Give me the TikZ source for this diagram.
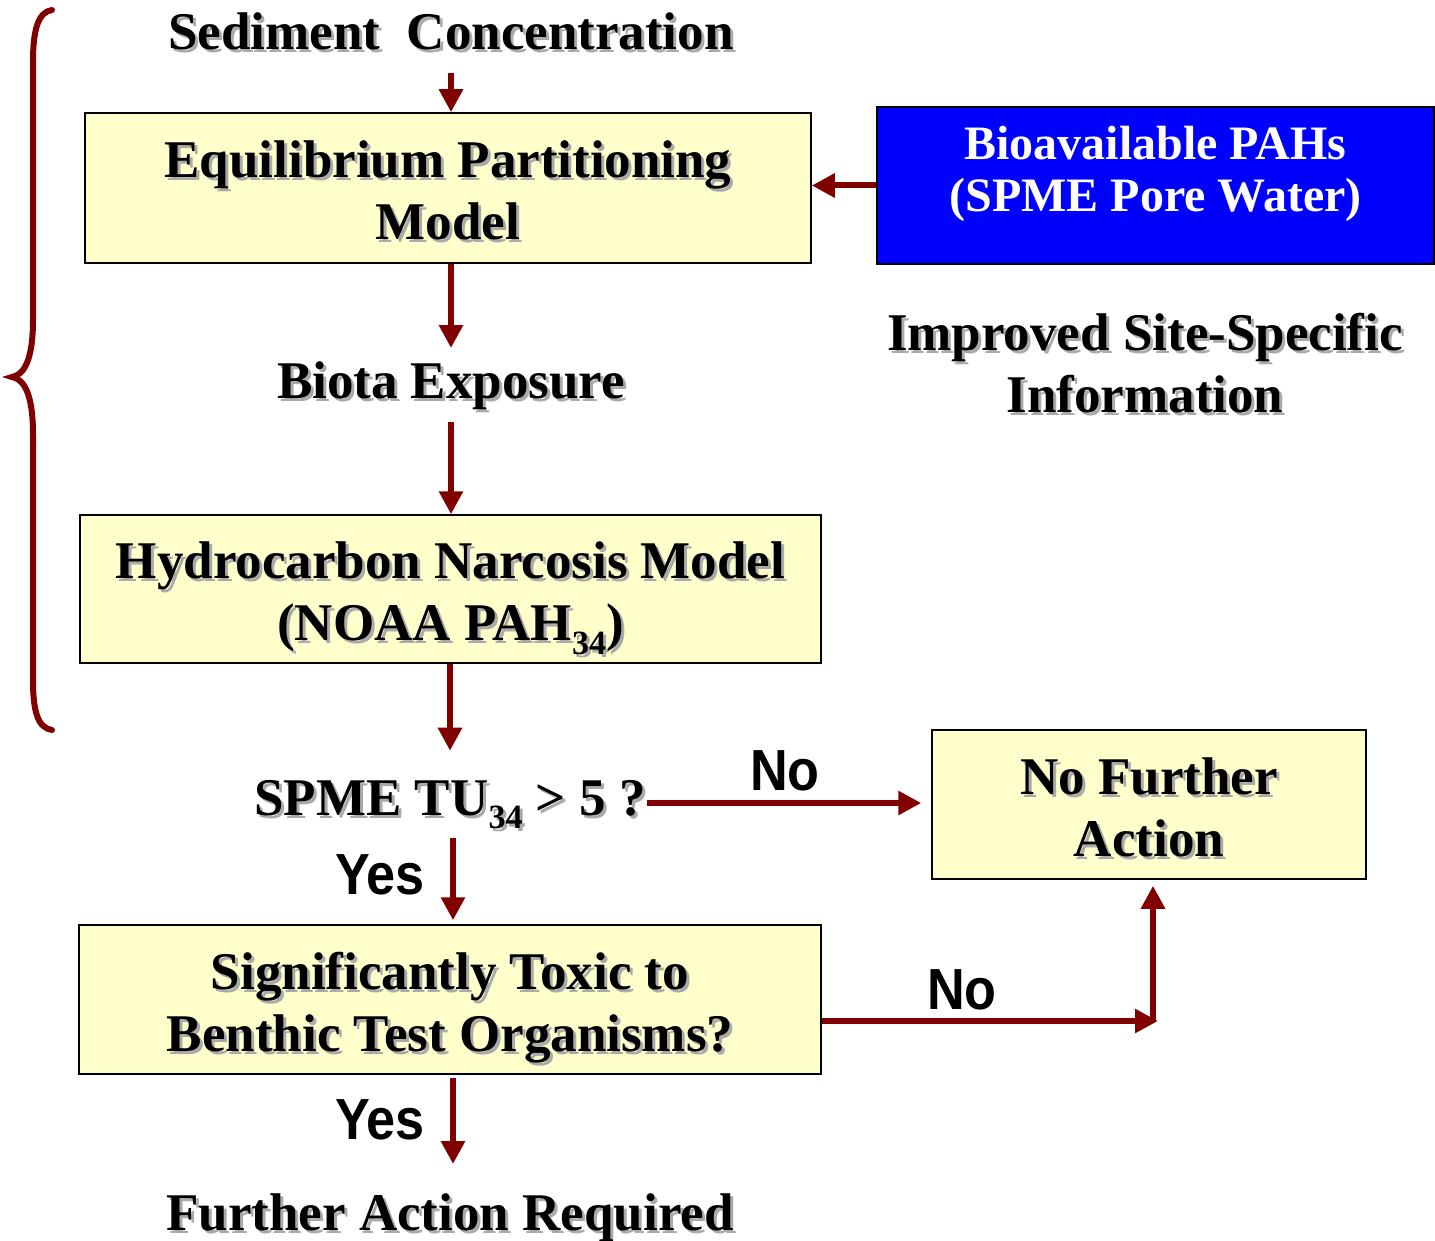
\documentclass[tikz,border=0pt]{standalone}
\usepackage{fontspec}
\setmainfont{Liberation Serif}
\newfontfamily\yesnofont[FakeStretch=0.9]{Liberation Sans}
\usetikzlibrary{arrows.meta}
\definecolor{darkred}{RGB}{128,0,0}
\definecolor{paleyellow}{RGB}{255,255,204}
\definecolor{shadowgray}{RGB}{170,170,170}
\newcommand{\shd}[1]{\makebox[0pt][l]{\hspace{3pt}\raisebox{-3pt}{\color{shadowgray}#1}}#1}
\newcommand{\subnum}[1]{\raisebox{-0.26em}{\fontsize{34}{34}\selectfont #1}}

\begin{document}
\begin{tikzpicture}[x=1pt, y=-1pt,
  every node/.style={font=\fontsize{53}{62}\selectfont\bfseries, align=center, inner sep=0pt},
  box/.style={draw=black, line width=1.5pt, fill=paleyellow, text height=103pt, text depth=0pt},
  flow/.style={draw=darkred, line width=6pt, -{Triangle[width=23pt,length=23pt]}},
  answer/.style={font=\yesnofont\fontsize{58}{58}\selectfont\bfseries}]
  \useasboundingbox (0,0) rectangle (1435,1241);

  % --- Boxes ---
  \node[box, minimum width=726pt, minimum height=150pt] (eqp) at (448,188)
    {\shd{Equilibrium Partitioning}\\\shd{Model}};
  \node[draw=black, line width=1.5pt, fill=blue, text=white, font=\fontsize{48}{52}\selectfont\bfseries,
    text height=53pt, text depth=0pt, minimum width=557pt, minimum height=157pt] (spme) at (1155.5,185.5)
    {Bioavailable PAHs\\(SPME Pore Water)};
  \node[box, minimum width=741pt, minimum height=148pt] (hnm) at (450.5,589)
    {\shd{Hydrocarbon Narcosis Model}\\\shd{(NOAA PAH\subnum{34})}};
  \node[box, minimum width=434pt, minimum height=149pt] (nfa) at (1149,804.5)
    {\shd{No Further}\\\shd{Action}};
  \node[box, minimum width=742pt, minimum height=149pt] (tox) at (450,999.5)
    {\shd{Significantly Toxic to}\\\shd{Benthic Test Organisms?}};

  % --- Plain texts ---
  \node[anchor=base] (sed) at (451,50) {\shd{Sediment\ \ Concentration}};
  \node[anchor=base] (biota) at (451,398) {\shd{Biota Exposure}};
  \node (improved) at (1145,365) {\shd{Improved Site-Specific}\\\shd{Information}};
  \node[anchor=base] (tu) at (450,815) {\shd{SPME TU\subnum{34} > 5 ?}};
  \node[anchor=base] (further) at (450,1230) {\shd{Further Action Required}};

  \node[answer] (no1) at (785,771) {No};
  \node[answer] (yes1) at (380,875) {Yes};
  \node[answer] (no2) at (962,990) {No};
  \node[answer] (yes2) at (380,1120) {Yes};

  \coordinate (turn) at (1153,1021);

  % --- Arrows ---
  \draw[flow, shorten <=19pt] (sed.south) -- (sed.south |- eqp.north);
  \draw[flow] (spme.west) -- (spme.west -| eqp.east);
  \draw[flow, shorten >=13pt] (eqp.south -| biota.north) -- (biota.north);
  \draw[flow, shorten <=10pt] (biota.south) -- (biota.south |- hnm.north);
  \draw[flow, shorten >=29pt] (hnm.south -| tu.north) -- (tu.north);
  \draw[flow, shorten <=1pt, shorten >=10pt] ([yshift=3pt]tu.east) -- ([yshift=3pt]tu.east -| nfa.west);
  \draw[flow, shorten <=6pt, shorten >=4pt] ([xshift=3pt]tu.south) -- ([xshift=3pt]tu.south |- tox.north);
  \draw[flow] (turn -| tox.east) -- ([xshift=5pt]turn);
  \draw[flow, shorten >=6pt] (turn) -- (turn |- nfa.south);
  \draw[flow, shorten <=3pt, shorten >=29pt] ([xshift=3pt]tox.south) -- ([xshift=3pt]tox.south |- further.north);

  % --- Brace ---
  \draw[darkred, line width=6pt, line cap=round]
    (52,10) .. controls (38,12) and (33,30) .. (33,62) -- (33,320)
    .. controls (33,360) and (24,375) .. (12,377)
    .. controls (24,379) and (33,394) .. (33,434) -- (33,680)
    .. controls (33,712) and (38,728) .. (52,730);
\end{tikzpicture}
\end{document}
